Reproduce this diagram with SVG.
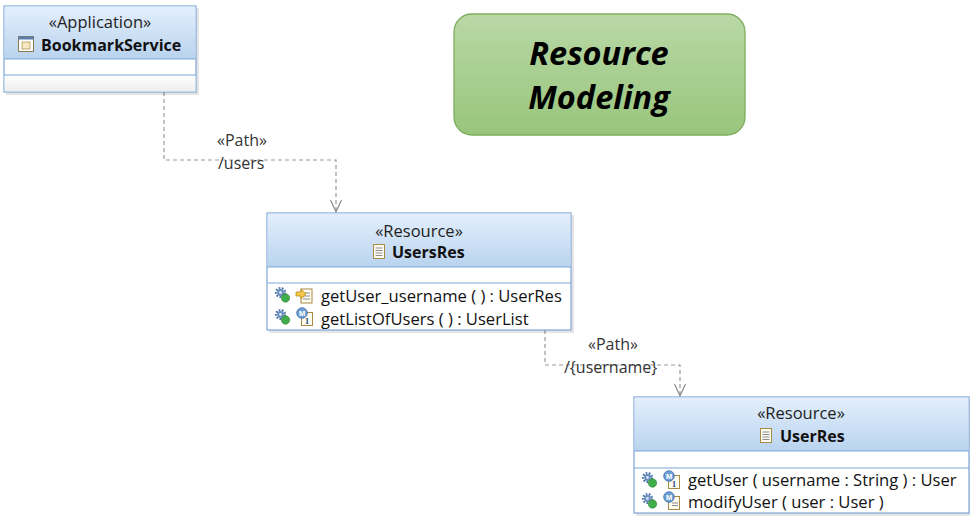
<svg xmlns="http://www.w3.org/2000/svg" width="970" height="520" viewBox="0 0 970 520">
<defs>
<linearGradient id="hdr" x1="0" y1="0" x2="0" y2="1">
<stop offset="0" stop-color="#e3effc"/><stop offset="1" stop-color="#b9d3ee"/>
</linearGradient>
<linearGradient id="low" x1="0" y1="0" x2="0" y2="1">
<stop offset="0" stop-color="#ffffff"/><stop offset="1" stop-color="#eeeeee"/>
</linearGradient>
<linearGradient id="grn" x1="0" y1="0" x2="0" y2="1">
<stop offset="0" stop-color="#b9d8a6"/><stop offset="1" stop-color="#98c57c"/>
</linearGradient>
<marker id="open" viewBox="0 0 14 14" refX="13" refY="7" markerWidth="14" markerHeight="14" markerUnits="userSpaceOnUse" orient="auto">
<path d="M1,1.5 L13,7 L1,12.5" fill="none" stroke="#8c8c8c" stroke-width="1.2"/>
</marker>
<g id="gear">
<circle cx="5.5" cy="5.5" r="4.3" fill="none" stroke="#4f76a8" stroke-width="2.6" stroke-dasharray="1.6 1.4"/>
<circle cx="5.5" cy="5.5" r="3.4" fill="#6a8fbe"/>
<circle cx="5.5" cy="5.5" r="1.4" fill="#dfe8f4"/>
<circle cx="10.5" cy="11" r="4.2" fill="#3fae4a" stroke="#2d7d35" stroke-width="0.6"/>
</g>
<g id="doc">
<rect x="1.5" y="1.5" width="11" height="14" fill="#fffdf2" stroke="#a88a45"/>
<path d="M3.5,5 h7 M3.5,7.5 h7 M3.5,10 h7 M3.5,12.5 h7" stroke="#8a8a8a" stroke-width="1"/>
</g>
<g id="mdoc">
<rect x="5.5" y="5.5" width="11" height="13" fill="#fffdf2" stroke="#a88a45"/>
<circle cx="6" cy="6" r="5.3" fill="#6f9fd6" stroke="#3d6aa6" stroke-width="0.8"/>
<text x="6" y="9" font-family="Liberation Sans,sans-serif" font-size="7.5" font-weight="bold" fill="#fff" text-anchor="middle">M</text>
</g>
</defs>
<style>
.box{fill:#ffffff;stroke:#7da6d8;stroke-width:1.2}
.sh{fill:#000;opacity:0.10}
.st{font-family:"Open Sans","Noto Sans",sans-serif;font-size:16.5px;fill:#222;text-anchor:middle}
.nm{font-family:"Open Sans","Noto Sans",sans-serif;font-size:16px;font-weight:bold;fill:#111}
.op{font-family:"Open Sans","Noto Sans",sans-serif;font-size:16.6px;fill:#111}
.lb{font-family:"Open Sans","Noto Sans",sans-serif;font-size:16px;fill:#333}
.conn{fill:none;stroke:#9a9a9a;stroke-width:1.2;stroke-dasharray:4 3}
.title{font-family:"Open Sans","Noto Sans",sans-serif;font-size:32.5px;font-weight:bold;font-style:italic;fill:#000;text-anchor:middle}
</style>

<g id="connectors">
<path class="conn" d="M164,92 V160 H336 V212" marker-end="url(#open)"/>
<path class="conn" d="M545,330 V365 H680 V396" marker-end="url(#open)"/>
<text class="lb" x="242" y="146" text-anchor="middle">«Path»</text>
<text class="lb" x="218" y="169">/users</text>
<text class="lb" x="613" y="350" text-anchor="middle">«Path»</text>
<text class="lb" x="564" y="373">/{username}</text>
</g>

<g id="BookmarkService">
<rect class="sh" x="6" y="8" width="193" height="87"/>
<rect class="box" x="4" y="6" width="192" height="86"/>
<rect x="4.6" y="6.6" width="190.8" height="52.4" fill="url(#hdr)"/>
<rect x="4.6" y="75" width="190.8" height="16.4" fill="url(#low)"/>
<path d="M4,59 H196 M4,75 H196" stroke="#7da6d8" stroke-width="1.2"/>
<text class="st" x="100" y="28">«Application»</text>
<g transform="translate(18,36)">
<rect x="0.5" y="0.5" width="15" height="15" fill="#fff" stroke="#8a7a50"/>
<rect x="0.5" y="0.5" width="15" height="3" fill="#5a7fae"/>
<rect x="4" y="6" width="8" height="7" fill="#f6e9c0" stroke="#a88a45" stroke-width="0.7"/>
</g>
<text class="nm" x="41" y="51">BookmarkService</text>
</g>

<g id="ResourceModeling">
<rect x="454" y="14" width="291" height="121" rx="18" fill="url(#grn)" stroke="#7fae5e" stroke-width="1.3"/>
<text class="title" x="599" y="65">Resource</text>
<text class="title" x="599" y="109">Modeling</text>
</g>

<g id="UsersRes">
<rect class="sh" x="269" y="215" width="305" height="118"/>
<rect class="box" x="267" y="213" width="304" height="117"/>
<rect x="267.6" y="213.6" width="302.8" height="53.4" fill="url(#hdr)"/>
<path d="M267,267 H571 M267,283 H571" stroke="#7da6d8" stroke-width="1.2"/>
<text class="st" x="419" y="237">«Resource»</text>
<use href="#doc" x="372" y="243"/>
<text class="nm" x="392" y="258">UsersRes</text>
<use href="#gear" x="275" y="287"/>
<g transform="translate(296,286)">
<rect x="5" y="3" width="11" height="14" fill="#fffdf2" stroke="#a88a45"/>
<path d="M7,7 h7 M7,10 h7 M7,13 h7" stroke="#8a8a8a"/>
<path d="M0,6 h5 v-3 l5,5 l-5,5 v-3 h-5 z" fill="#f7c84a" stroke="#b58a1c" stroke-width="0.8"/>
</g>
<text class="op" x="321" y="302">getUser_username ( ) : UserRes</text>
<use href="#gear" x="275" y="309"/>
<g transform="translate(296,307)">
<use href="#mdoc"/>
<text x="11" y="17" font-family="Liberation Serif,serif" font-size="9" font-weight="bold" fill="#2a4f8a" text-anchor="middle">1</text>
</g>
<text class="op" x="321" y="325">getListOfUsers ( ) : UserList</text>
</g>

<g id="UserRes">
<rect class="sh" x="636" y="399" width="334" height="117"/>
<rect class="box" x="634" y="397" width="335" height="116"/>
<rect x="634.6" y="397.6" width="333.8" height="53.4" fill="url(#hdr)"/>
<path d="M634,451 H969 M634,468 H969" stroke="#7da6d8" stroke-width="1.2"/>
<text class="st" x="801" y="419">«Resource»</text>
<use href="#doc" x="759" y="427"/>
<text class="nm" x="780" y="442">UserRes</text>
<use href="#gear" x="642" y="472"/>
<g transform="translate(663,470)">
<use href="#mdoc"/>
<text x="11" y="17" font-family="Liberation Serif,serif" font-size="9" font-weight="bold" fill="#2a4f8a" text-anchor="middle">1</text>
</g>
<text class="op" x="688" y="486">getUser ( username : String ) : User</text>
<use href="#gear" x="642" y="493"/>
<g transform="translate(663,491)">
<use href="#mdoc"/>
<path d="M9,12 h6 M9,14.5 h6" stroke="#8a8a8a"/>
</g>
<text class="op" x="688" y="508">modifyUser ( user : User )</text>
</g>
</svg>
